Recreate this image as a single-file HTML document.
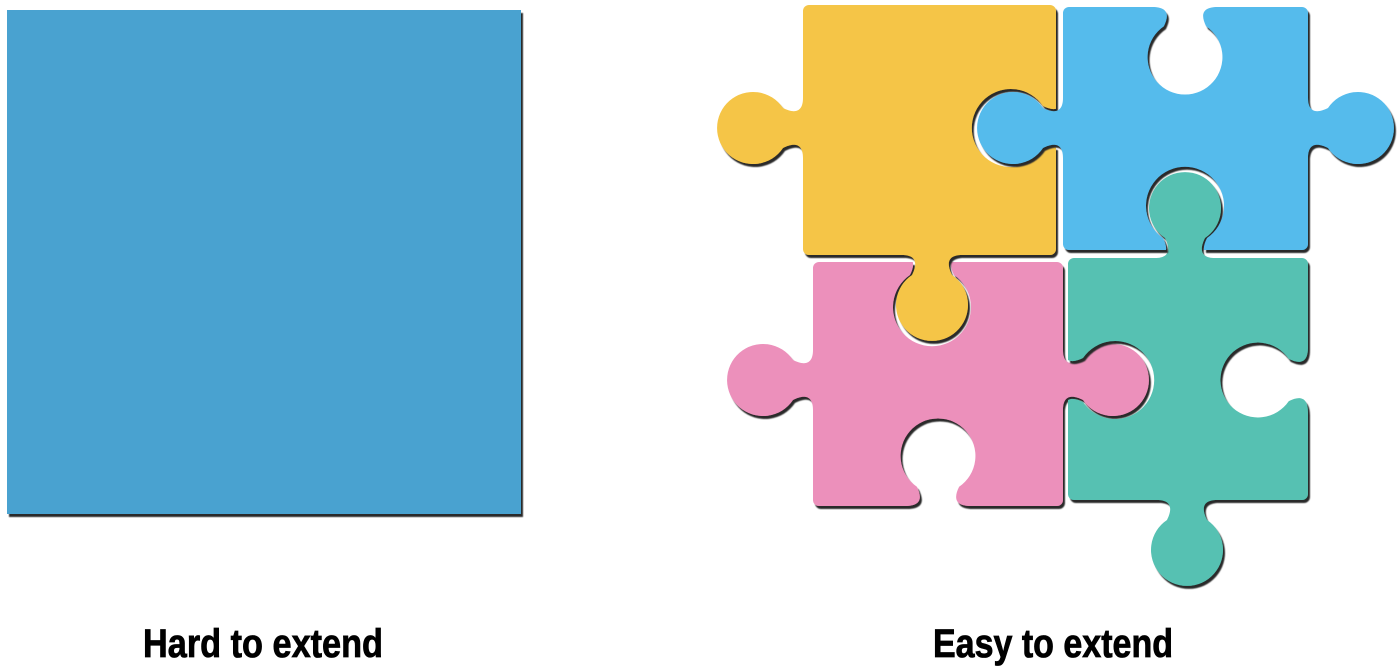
<!DOCTYPE html>
<html><head><meta charset="utf-8"><style>
html,body{margin:0;padding:0;background:#fff;}
svg{display:block;}
</style></head><body>
<svg width="1400" height="672" viewBox="0 0 1400 672">
<defs>
<filter id="sh" x="-10%" y="-10%" width="120%" height="120%">
<feDropShadow dx="2" dy="3" stdDeviation="0.6" flood-color="#2a2a2a" flood-opacity="1"/>
</filter>
<path id="knob" d="M-30,3 L-30,0 C-16,0 -14,-8 -20,-20 A36,36 0 1 1 20,-20 C14,-8 16,0 30,0 L30,3 Z"/>
<path id="hole" d="M-34,6 L-34,0 C-18,0 -16,-8 -22,-20 A39,39 0 1 1 22,-20 C16,-8 18,0 34,0 L34,6 Z"/>
<mask id="mY" maskUnits="userSpaceOnUse" x="0" y="0" width="1400" height="672">
<rect width="1400" height="672" fill="#fff"/>
<use href="#hole" fill="#000" transform="translate(1063,128) rotate(-90)"/>
</mask>
<mask id="mB" maskUnits="userSpaceOnUse" x="0" y="0" width="1400" height="672">
<rect width="1400" height="672" fill="#fff"/>
<use href="#hole" fill="#000" transform="translate(1185,7) rotate(180) scale(0.96)"/>
<use href="#hole" fill="#000" transform="translate(1185,258)"/>
</mask>
<mask id="mP" maskUnits="userSpaceOnUse" x="0" y="0" width="1400" height="672">
<rect width="1400" height="672" fill="#fff"/>
<use href="#hole" fill="#000" transform="translate(932,255) rotate(180)"/>
<use href="#hole" fill="#000" transform="translate(938,506) scale(0.96)"/>
</mask>
<mask id="mG" maskUnits="userSpaceOnUse" x="0" y="0" width="1400" height="672">
<rect width="1400" height="672" fill="#fff"/>
<use href="#hole" fill="#000" transform="translate(1063,380) rotate(90)"/>
<use href="#hole" fill="#000" transform="translate(1308,380) rotate(-90) scale(0.96)"/>
</mask>
</defs>

<rect x="7" y="10" width="514" height="504" fill="#49a2d0" filter="url(#sh)"/>

<g filter="url(#sh)">
<g mask="url(#mP)" fill="#ec90bb">
<rect x="813" y="262" width="250" height="244" rx="6"/>
<use href="#knob" transform="translate(813,380) rotate(-90)"/>
<use href="#knob" transform="translate(1063,380) rotate(90)"/>
</g></g>
<g filter="url(#sh)">
<g mask="url(#mG)" fill="#57c1b2">
<rect x="1068" y="258" width="240" height="242" rx="6"/>
<use href="#knob" transform="translate(1185,258)"/>
<use href="#knob" transform="translate(1187,500) rotate(180)"/>
</g></g>
<g filter="url(#sh)">
<g mask="url(#mY)" fill="#f5c547">
<rect x="803" y="5" width="253" height="250" rx="6"/>
<use href="#knob" transform="translate(803,128) rotate(-90)"/>
<use href="#knob" transform="translate(932,255) rotate(180)"/>
</g></g>
<g filter="url(#sh)">
<g mask="url(#mB)" fill="#55bbec">
<rect x="1063" y="7" width="245" height="243" rx="6"/>
<use href="#knob" transform="translate(1063,128) rotate(-90)"/>
<use href="#knob" transform="translate(1308,128) rotate(90)"/>
</g></g>

<text x="263" y="657" text-anchor="middle" font-family="'Liberation Sans Narrow','Liberation Sans',sans-serif" font-weight="bold" font-size="40" textLength="240" lengthAdjust="spacingAndGlyphs" fill="#000" stroke="#000" stroke-width="0.8">Hard to extend</text>
<text x="1053" y="657" text-anchor="middle" font-family="'Liberation Sans Narrow','Liberation Sans',sans-serif" font-weight="bold" font-size="40" textLength="240" lengthAdjust="spacingAndGlyphs" fill="#000" stroke="#000" stroke-width="0.8">Easy to extend</text>
</svg>
</body></html>
